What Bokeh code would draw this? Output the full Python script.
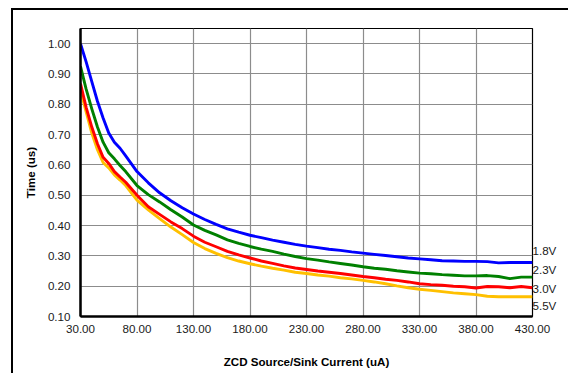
from bokeh.plotting import figure
from bokeh.models import FixedTicker, PrintfTickFormatter, Range1d, LinearAxis
from bokeh.embed import file_html
from bokeh.resources import INLINE

current = [30, 35, 40, 45, 50, 55, 60, 65, 70, 80, 90, 100, 110, 120, 130, 140, 150,
           160, 170, 180, 190, 200, 210, 220, 230, 240, 250, 260, 270, 280, 290, 300,
           310, 320, 330, 340, 350, 360, 370, 380, 390, 400, 410, 420, 430]

v18 = [1.000, 0.940, 0.875, 0.810, 0.755, 0.705, 0.675, 0.655, 0.630, 0.578, 0.541,
       0.508, 0.482, 0.459, 0.438, 0.420, 0.404, 0.389, 0.378, 0.368, 0.360, 0.352,
       0.345, 0.338, 0.332, 0.327, 0.322, 0.318, 0.313, 0.309, 0.305, 0.301, 0.297,
       0.293, 0.290, 0.287, 0.284, 0.283, 0.282, 0.282, 0.281, 0.277, 0.278, 0.278, 0.278]

v23 = [0.925, 0.850, 0.785, 0.725, 0.675, 0.640, 0.620, 0.598, 0.578, 0.532, 0.502,
       0.478, 0.452, 0.428, 0.402, 0.384, 0.369, 0.353, 0.341, 0.331, 0.322, 0.315,
       0.306, 0.298, 0.291, 0.286, 0.280, 0.275, 0.270, 0.264, 0.259, 0.256, 0.251,
       0.247, 0.243, 0.241, 0.238, 0.236, 0.234, 0.234, 0.235, 0.232, 0.225, 0.230, 0.230]

v30 = [0.868, 0.790, 0.725, 0.670, 0.625, 0.605, 0.578, 0.560, 0.543, 0.500, 0.462,
       0.437, 0.412, 0.390, 0.365, 0.345, 0.330, 0.315, 0.303, 0.293, 0.283, 0.275,
       0.267, 0.260, 0.255, 0.250, 0.246, 0.242, 0.237, 0.232, 0.228, 0.223, 0.219,
       0.214, 0.208, 0.205, 0.203, 0.200, 0.198, 0.194, 0.199, 0.198, 0.195, 0.199, 0.195]

v55 = [0.847, 0.775, 0.705, 0.650, 0.608, 0.590, 0.567, 0.550, 0.532, 0.484, 0.452,
       0.423, 0.395, 0.370, 0.344, 0.324, 0.308, 0.294, 0.283, 0.274, 0.266, 0.259,
       0.253, 0.246, 0.242, 0.237, 0.233, 0.228, 0.224, 0.219, 0.214, 0.208, 0.201,
       0.195, 0.190, 0.186, 0.182, 0.178, 0.175, 0.172, 0.167, 0.165, 0.165, 0.165, 0.165]

series_names = ["1.8V", "2.3V", "3.0V", "5.5V"]
series_values = [v18, v23, v30, v55]
series_colors = ["#0000FF", "#008000", "#FF0000", "#FFC000"]
label_y = [0.318, 0.254, 0.191, 0.137]

x_ticks = [30, 80, 130, 180, 230, 280, 330, 380, 430]
y_ticks = [0.1, 0.2, 0.3, 0.4, 0.5, 0.6, 0.7, 0.8, 0.9, 1.0]

FONT = "Liberation Sans"
FS = "11.6px"

p = figure(width=568, height=373, output_backend="svg", toolbar_location=None,
           x_range=Range1d(30, 430), y_range=Range1d(0.1, 1.05),
           min_border_left=80, min_border_right=36, min_border_top=28, min_border_bottom=57)
# outer frame lines (top and left) painted behind a transparent canvas border
p.styles = {
    "background": ("linear-gradient(#000, #000) 11px 8px / 100% 2px no-repeat, "
                   "linear-gradient(#000, #000) 11px 8px / 2px 100% no-repeat, #fff"),
}
p.border_fill_alpha = 0
p.background_fill_color = "white"
p.outline_line_color = "black"
p.outline_line_width = 1.2

for vals, col in zip(series_values[::-1], series_colors[::-1]):
    p.line(current, vals, line_color=col, line_width=2.9, line_join="round")

p.xaxis.ticker = FixedTicker(ticks=x_ticks)
p.yaxis.ticker = FixedTicker(ticks=y_ticks)
p.xaxis.formatter = PrintfTickFormatter(format="%.2f")
p.yaxis.formatter = PrintfTickFormatter(format="%.2f")

right = LinearAxis(ticker=FixedTicker(ticks=label_y),
                   major_label_overrides={v: n for v, n in zip(label_y, series_names)})
p.add_layout(right, "right")

for ax in (p.xaxis, p.yaxis, [right]):
    ax_list = ax if isinstance(ax, list) else [a for a in ax]
    for a in ax_list:
        a.major_tick_in = 0
        a.major_tick_out = 0
        a.minor_tick_in = 0
        a.minor_tick_out = 0
        a.axis_line_color = "black"
        a.major_label_text_font = FONT
        a.major_label_text_font_size = FS
        a.major_label_text_color = "#1a1a1a"
        a.axis_label_text_font = FONT
        a.axis_label_text_font_size = FS
        a.axis_label_text_font_style = "bold"
        a.axis_label_text_color = "black"

right.axis_line_color = None
right.major_label_standoff = 0
right.major_label_text_align = "left"

p.yaxis[0].axis_line_width = 2.5
p.xaxis.axis_line_width = 2.5
p.xaxis.axis_label = "ZCD Source/Sink Current (uA)"
p.yaxis[0].axis_label = "Time (us)"
p.xaxis.major_label_standoff = 8
p.yaxis[0].major_label_standoff = 10
p.xaxis.axis_label_standoff = 19
p.yaxis[0].axis_label_standoff = 8

p.xgrid.grid_line_color = "#8c8c8c"
p.ygrid.grid_line_color = "#8c8c8c"
p.xgrid.grid_line_width = 1.2
p.ygrid.grid_line_width = 1.2

open("out.html", "w").write(file_html(p, INLINE))
